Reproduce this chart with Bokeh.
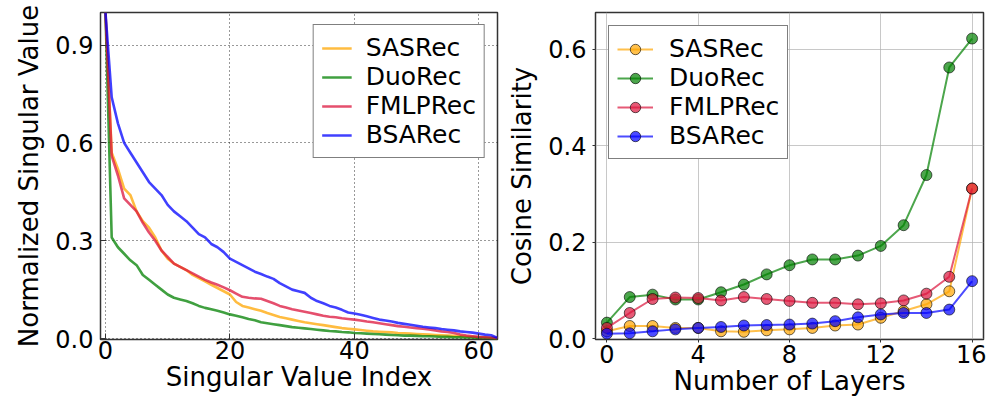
from bokeh.plotting import figure
from bokeh.models import Range1d, Legend, LegendItem, FixedTicker, PrintfTickFormatter
from bokeh.layouts import row
from bokeh.embed import file_html
from bokeh.resources import INLINE

# ---------------- data: left panel (singular value spectrum) ----------------
sv_index = list(range(64))
sasrec_sv = [1.0, 0.57, 0.52, 0.46, 0.44, 0.39, 0.36, 0.34, 0.31, 0.27, 0.245, 0.23, 0.22, 0.21, 0.195, 0.185,
             0.175, 0.165, 0.155, 0.145, 0.135, 0.112, 0.1, 0.095, 0.09, 0.085, 0.078, 0.072, 0.066, 0.062, 0.058, 0.054,
             0.05, 0.047, 0.044, 0.041, 0.038, 0.035, 0.032, 0.03, 0.028, 0.026, 0.024, 0.022, 0.021, 0.02, 0.019, 0.017,
             0.016, 0.015, 0.014, 0.013, 0.012, 0.011, 0.01, 0.009, 0.008, 0.007, 0.006, 0.005, 0.004, 0.003, 0.002, 0.001]
duorec_sv = [1.0, 0.31, 0.28, 0.26, 0.24, 0.225, 0.195, 0.18, 0.165, 0.15, 0.135, 0.125, 0.12, 0.115, 0.108, 0.1,
             0.094, 0.09, 0.085, 0.08, 0.074, 0.07, 0.065, 0.06, 0.056, 0.05, 0.047, 0.044, 0.041, 0.038, 0.035, 0.033,
             0.031, 0.029, 0.027, 0.025, 0.023, 0.022, 0.02, 0.019, 0.017, 0.016, 0.015, 0.014, 0.013, 0.012, 0.011, 0.01,
             0.009, 0.009, 0.008, 0.007, 0.007, 0.006, 0.005, 0.005, 0.004, 0.004, 0.003, 0.003, 0.002, 0.002, 0.001, 0.001]
fmlprec_sv = [1.0, 0.56, 0.5, 0.43, 0.41, 0.39, 0.355, 0.325, 0.3, 0.27, 0.25, 0.23, 0.22, 0.21, 0.2, 0.19,
              0.18, 0.172, 0.165, 0.157, 0.148, 0.138, 0.128, 0.125, 0.123, 0.122, 0.115, 0.108, 0.1, 0.095, 0.09, 0.086,
              0.082, 0.078, 0.074, 0.07, 0.067, 0.065, 0.062, 0.06, 0.058, 0.055, 0.052, 0.05, 0.047, 0.044, 0.041, 0.038,
              0.036, 0.034, 0.032, 0.03, 0.028, 0.025, 0.022, 0.02, 0.017, 0.012, 0.009, 0.007, 0.005, 0.004, 0.003, 0.002]
bsarec_sv = [1.0, 0.74, 0.66, 0.6, 0.57, 0.54, 0.51, 0.48, 0.46, 0.44, 0.41, 0.39, 0.375, 0.36, 0.34, 0.32,
             0.31, 0.29, 0.28, 0.265, 0.245, 0.235, 0.225, 0.215, 0.205, 0.198, 0.19, 0.183, 0.17, 0.16, 0.15, 0.145,
             0.14, 0.125, 0.115, 0.108, 0.1, 0.095, 0.088, 0.08, 0.077, 0.073, 0.068, 0.063, 0.058, 0.055, 0.052, 0.048,
             0.045, 0.042, 0.039, 0.036, 0.034, 0.032, 0.029, 0.027, 0.025, 0.022, 0.02, 0.018, 0.015, 0.012, 0.01, 0.002]

# ---------------- data: right panel (cosine similarity per layer) ----------------
layers = list(range(17))
sasrec_cos = [0.015, 0.026, 0.026, 0.022, 0.022, 0.015, 0.014, 0.017, 0.019, 0.022, 0.027, 0.029, 0.043, 0.057,
              0.071, 0.098, 0.311]
duorec_cos = [0.033, 0.086, 0.091, 0.081, 0.081, 0.096, 0.112, 0.133, 0.152, 0.164, 0.164, 0.172, 0.192, 0.235,
              0.339, 0.562, 0.622]
fmlprec_cos = [0.022, 0.053, 0.082, 0.085, 0.084, 0.079, 0.086, 0.082, 0.078, 0.074, 0.074, 0.071, 0.073, 0.079,
               0.093, 0.128, 0.311]
bsarec_cos = [0.010, 0.011, 0.015, 0.019, 0.022, 0.024, 0.027, 0.028, 0.029, 0.031, 0.036, 0.044, 0.050, 0.053,
              0.053, 0.060, 0.119]

names = ["SASRec", "DuoRec", "FMLPRec", "BSARec"]
colors = ["#FFA500", "#008000", "#DC143C", "#0000FF"]
sv_series = [sasrec_sv, duorec_sv, fmlprec_sv, bsarec_sv]
cos_series = [sasrec_cos, duorec_cos, fmlprec_cos, bsarec_cos]

FONT = "DejaVu Sans"


def style_axes(p, tick_size="24px", label_size="26px"):
    for ax in (p.xaxis, p.yaxis):
        ax.major_label_text_font = FONT
        ax.major_label_text_font_size = tick_size
        ax.major_label_text_color = "black"
        ax.axis_label_text_font = FONT
        ax.axis_label_text_font_size = label_size
        ax.axis_label_text_font_style = "normal"
        ax.axis_label_text_color = "black"
        ax.minor_tick_line_color = None
        ax.axis_line_color = None


def make_legend(items, location, margin, glyph_width, label_standoff):
    return Legend(items=items, location=location, margin=margin,
                  label_text_font=FONT, label_text_font_size="25px", label_text_color="black",
                  glyph_width=glyph_width, glyph_height=26, label_height=26, spacing=0, padding=8,
                  label_standoff=label_standoff, border_line_color="black", border_line_width=1.5,
                  background_fill_color="white", background_fill_alpha=1.0)


# ---------------- left figure ----------------
p1 = figure(width=504, height=401, x_range=Range1d(-0.8, 63), y_range=Range1d(-0.003, 1.0),
            output_backend="svg", toolbar_location=None,
            min_border_left=100, min_border_right=7, min_border_top=12, min_border_bottom=58)
p1.outline_line_color = "#333333"
p1.outline_line_width = 1.5
style_axes(p1)
p1.xaxis.ticker = FixedTicker(ticks=[0, 20, 40, 60])
p1.yaxis.ticker = FixedTicker(ticks=[0.0, 0.3, 0.6, 0.9])
p1.yaxis.formatter = PrintfTickFormatter(format="%.1f")
p1.xaxis.axis_label = "Singular Value Index"
p1.yaxis.axis_label = "Normalized Singular Value"
for ax in (p1.xaxis, p1.yaxis):
    ax.major_tick_in = 6
    ax.major_tick_out = 0
    ax.major_tick_line_color = "#333333"
    ax.major_label_standoff = 1
    ax.axis_label_standoff = 0
p1.yaxis.major_label_standoff = 7
p1.yaxis.axis_label_standoff = 8
p1.grid.grid_line_color = "black"
p1.grid.grid_line_dash = "1 3"
p1.grid.grid_line_alpha = 0.8

items1 = []
for name, col, ys in zip(names, colors, sv_series):
    r = p1.line(sv_index, ys, line_color=col, line_width=2.6, line_alpha=0.75)
    items1.append(LegendItem(label=name, renderers=[r]))
p1.add_layout(make_legend(items1, "top_right", 12, 30, 14))

# ---------------- right figure ----------------
p2 = figure(width=482, height=401, x_range=Range1d(-0.5, 16.5), y_range=Range1d(-0.002, 0.676),
            output_backend="svg", toolbar_location=None,
            min_border_left=90, min_border_right=3, min_border_top=10, min_border_bottom=62)
p2.outline_line_color = "#333333"
p2.outline_line_width = 1.5
style_axes(p2)
p2.xaxis.ticker = FixedTicker(ticks=[0, 4, 8, 12, 16])
p2.yaxis.ticker = FixedTicker(ticks=[0.0, 0.2, 0.4, 0.6])
p2.yaxis.formatter = PrintfTickFormatter(format="%.1f")
p2.xaxis.axis_label = "Number of Layers"
p2.yaxis.axis_label = "Cosine Similarity"
for ax in (p2.xaxis, p2.yaxis):
    ax.major_tick_in = 0
    ax.major_tick_out = 3
    ax.major_tick_line_color = "#333333"
    ax.major_label_standoff = 2
    ax.axis_label_standoff = 0
p2.yaxis.major_label_standoff = 6
p2.yaxis.axis_label_standoff = 8
p2.grid.grid_line_color = "#b0b0b0"
p2.grid.grid_line_alpha = 0.7
p2.grid.grid_line_width = 1

items2 = []
for name, col, ys in zip(names, colors, cos_series):
    rl = p2.line(layers, ys, line_color=col, line_width=2, line_alpha=0.7)
    rs = p2.scatter(layers, ys, size=11, fill_color=col, fill_alpha=0.7,
                    line_color="black", line_alpha=0.6, line_width=1)
    items2.append(LegendItem(label=name, renderers=[rl, rs]))
p2.add_layout(make_legend(items2, "top_left", 13, 36, 16))

layout = row(p1, p2)
open("out.html", "w").write(file_html(layout, INLINE))
